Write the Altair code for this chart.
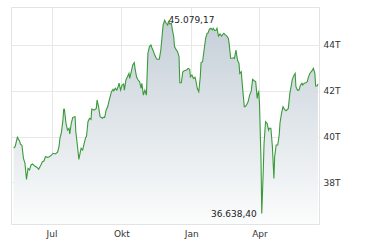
import altair as alt
import pandas as pd

# Days relative to 2024-07-01 and index values (points)
days = [-50, -48, -45, -42, -41, -39, -37, -35, -33, -31, -29, -27, -25, -22, -19, -17,
        -14, -12, -10, -8, -5, -3, 0, 2, 5, 8, 10, 11, 13, 15, 16, 17, 19, 21, 23, 24,
        26, 28, 31, 32, 34, 36, 38, 39, 41, 43, 45, 46, 48, 50, 52, 53, 56, 59, 60, 62,
        64, 67, 68, 70, 72, 74, 75, 77, 79, 81, 82, 84, 86, 88, 89, 91, 93, 95, 96, 98,
        100, 102, 103, 105, 107, 109, 110, 112, 114, 116, 118, 119, 121, 123, 125, 126,
        127, 129, 131, 132, 134, 136, 138, 139, 142, 144, 146, 147, 149, 151, 153, 154,
        156, 158, 159, 161, 162, 164, 166, 168, 169, 171, 173, 175, 178, 180, 182, 183,
        185, 187, 189, 190, 192, 194, 196, 197, 199, 201, 203, 205, 206, 208, 210, 212,
        213, 215, 217, 218, 220, 222, 224, 226, 227, 229, 231, 233, 234, 236, 238, 240,
        241, 243, 245, 247, 248, 250, 252, 254, 255, 257, 259, 261, 263, 265, 267, 269,
        271, 272, 273, 274, 276, 277, 279, 280, 282, 284, 286, 287, 289, 291, 293, 294,
        296, 298, 300, 301, 303, 305, 307, 309, 310, 312, 314, 316, 317, 319, 321, 322,
        324, 326, 328, 330, 331, 333, 335, 337, 338, 340, 342, 344, 345, 347, 348, 350, 351]

values = [39490, 39560, 39970, 39800, 39670, 39620, 39050, 38830, 38130, 38610, 38540, 38760,
          38800, 38710, 38650, 38570, 38760, 38900, 38930, 39120, 39090, 39120, 39190, 39270,
          39240, 39320, 39590, 39920, 40170, 40720, 41190, 41190, 40580, 40280, 40360, 40110,
          40580, 40840, 40870, 40210, 39630, 39000, 39340, 39490, 39410, 39700, 39970, 39990,
          40650, 40800, 40750, 41200, 41160, 41230, 41600, 41300, 40870, 40800, 40840, 40840,
          41160, 41300, 41450, 41710, 41960, 42060, 42000, 42110, 42030, 42210, 42330, 42030,
          42250, 42300, 42030, 42470, 42610, 42760, 42540, 42830, 43130, 43230, 42980, 42610,
          42470, 42400, 42110, 42330, 41810, 42030, 41810, 42760, 43640, 43930, 44000, 43900,
          43750, 43560, 43420, 43380, 43380, 43780, 44510, 44870, 45079.17, 44950, 44870, 45020,
          44920, 44950, 44700, 44360, 43930, 43810, 43710, 43490, 42350, 42350, 42830, 42880,
          42910, 42980, 42940, 42610, 42690, 42540, 42590, 42470, 42110, 41960, 42610, 43230,
          43270, 43780, 44290, 44510, 44510, 44690, 44730, 44660, 44730, 44630, 44660, 44730,
          44390, 44480, 44390, 44480, 44510, 44440, 44390, 44290, 44070, 43420, 43420, 43440,
          43420, 43780, 43340, 43200, 42760, 42830, 42030, 41300, 41300, 41380, 41520, 41810,
          41960, 42500, 42440, 42400, 41670, 41890, 41960, 41450, 38970, 36638.40, 38540, 39700,
          40650, 40580, 40280, 40360, 40360, 39560, 38170, 39120, 39630, 39630, 40070, 40580,
          41010, 41300, 41190, 41130, 41160, 41230, 41890, 42250, 42470, 42650, 42760, 42180,
          42030, 42030, 42250, 42330, 42250, 42330, 42350, 42400, 42540, 42730, 42830, 42910,
          42980, 42760, 42210, 42210, 42300]

y_ticks = [38000, 40000, 42000, 44000]
month_names = ["Jan", "Feb", "Mär", "Apr", "Mai", "Jun", "Jul", "Aug", "Sep", "Okt", "Nov", "Dez"]

base = pd.Timestamp("2024-07-01")
dates = [(base + pd.Timedelta(days=d)).strftime("%Y-%m-%d") for d in days]
df = pd.DataFrame({"date": dates, "value": values})


def de_format(v):
    s = f"{v:,.2f}"
    return s.replace(",", "X").replace(".", ",").replace("X", ".")


imax = df["value"].idxmax()
imin = df["value"].idxmin()
df_max = df.loc[[imax]].assign(label=de_format(df.loc[imax, "value"]))
df_min = df.loc[[imin]].assign(label=de_format(df.loc[imin, "value"]))

y_dom = [36180, 45660]
x_dom = [alt.DateTime(year=2024, month=5, date=8, hours=14, utc=True),
         alt.DateTime(year=2025, month=6, date=18, hours=10, utc=True)]
x_ticks = [alt.DateTime(year=2024, month=7, date=1, utc=True),
           alt.DateTime(year=2024, month=10, date=1, utc=True),
           alt.DateTime(year=2025, month=1, date=1, utc=True),
           alt.DateTime(year=2025, month=4, date=1, utc=True)]

label_expr = "[" + ",".join(f"'{m}'" for m in month_names) + "][utcmonth(datum.value)]"

x = alt.X("date:T", scale=alt.Scale(type="utc", domain=x_dom),
          axis=alt.Axis(values=x_ticks, labelExpr=label_expr, title=None, grid=True,
                        ticks=False, domain=False, labelPadding=5, labelFontSize=9,
                        labelFont="DejaVu Sans", labelColor="#333333",
                        gridColor="#e8e8e8", labelFlush=False))
y = alt.Y("value:Q", scale=alt.Scale(domain=y_dom, zero=False, nice=False),
          axis=alt.Axis(orient="right", values=y_ticks, labelExpr="datum.value / 1000 + 'T'",
                        title=None, grid=True, ticks=False, domain=False, labelPadding=4,
                        labelFontSize=9, labelFont="DejaVu Sans", labelColor="#333333",
                        gridColor="#e8e8e8"))

area = alt.Chart(df).mark_area(
    clip=True,
    color=alt.Gradient(gradient="linear",
                       stops=[alt.GradientStop(color="#c5cfd8", offset=0),
                              alt.GradientStop(color="#fbfcfc", offset=1)],
                       x1=1, x2=1, y1=0, y2=1),
).encode(x=x, y=y, y2=alt.datum(y_dom[0]))

line = alt.Chart(df).mark_line(color="#3a9a3a", strokeWidth=1.1, clip=True).encode(x=x, y=y)

txt_max = alt.Chart(df_max).mark_text(align="left", baseline="middle", dx=4, fontSize=9,
                                      font="DejaVu Sans", color="#222222").encode(
    x="date:T", y="value:Q", text="label:N")
txt_min = alt.Chart(df_min).mark_text(align="right", baseline="middle", dx=-5, fontSize=9,
                                      font="DejaVu Sans", color="#222222").encode(
    x="date:T", y="value:Q", text="label:N")

chart = alt.layer(area, line, txt_max, txt_min).properties(
    width=308, height=217,
    padding={"left": 11, "top": 7, "right": 5, "bottom": 5},
    background="white",
).configure_view(stroke="#e3e3e3", strokeWidth=1)

chart.save("out.html", embed_options={"renderer": "svg", "actions": False})
